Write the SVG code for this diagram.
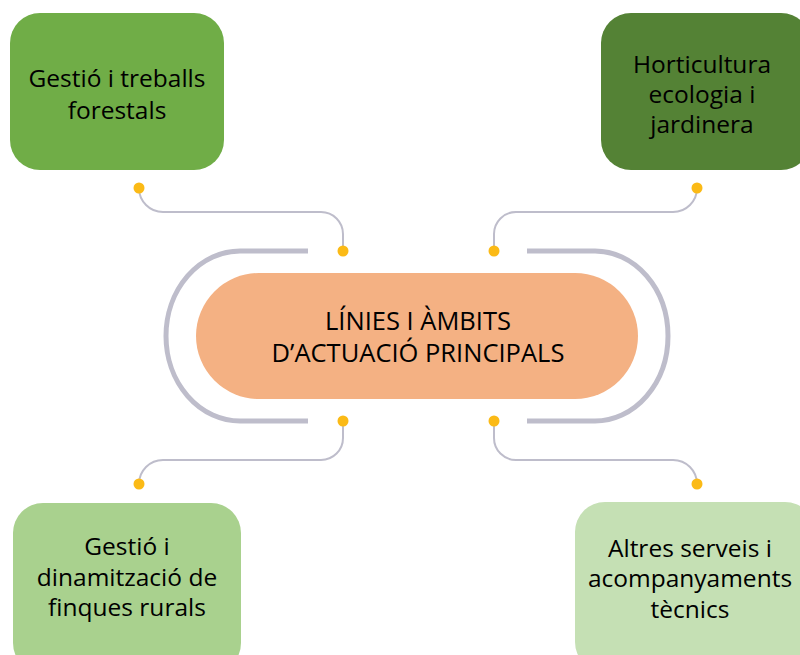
<svg xmlns="http://www.w3.org/2000/svg" width="800" height="655" viewBox="0 0 800 655">
<style>
.t{font-family:"Open Sans","Noto Sans","Liberation Sans",sans-serif;font-size:24.5px;fill:#000;text-anchor:middle}
.c{font-size:25.5px}
.conn{fill:none;stroke:#BEBDCB;stroke-width:2}
.br{fill:none;stroke:#BEBDCB;stroke-width:5}
.dot{fill:#FBBA16}
</style>
<rect width="800" height="655" fill="#fff"/>
<g id="connectors">
<path class="br" d="M308 251 H240 A74 85 0 0 0 240 421 H308"/>
<path class="br" d="M527 251 H595 A73 85 0 0 1 595 421 H527"/>
<path class="conn" d="M139 188 A24 24 0 0 0 163 212 H321 A22 22 0 0 1 343 234 V251"/>
<path class="conn" d="M697 188 A24 24 0 0 1 673 212 H516 A22 22 0 0 0 494 234 V251"/>
<path class="conn" d="M343 421 V438 A22 22 0 0 1 321 460 H163 A24 24 0 0 0 139 484"/>
<path class="conn" d="M494 421 V438 A22 22 0 0 0 516 460 H673 A24 24 0 0 1 697 484"/>
<circle class="dot" cx="139" cy="188" r="5.5"/>
<circle class="dot" cx="343" cy="251" r="5.5"/>
<circle class="dot" cx="697" cy="188" r="5.5"/>
<circle class="dot" cx="494" cy="251" r="5.5"/>
<circle class="dot" cx="343" cy="421" r="5.5"/>
<circle class="dot" cx="139" cy="484" r="5.5"/>
<circle class="dot" cx="494" cy="421" r="5.5"/>
<circle class="dot" cx="697" cy="484" r="5.5"/>
</g>
<g id="center">
<rect x="196" y="273" width="442" height="126" rx="63" fill="#F4B183"/>
<text class="t c" x="418" y="330">LÍNIES I ÀMBITS</text>
<text class="t c" x="418" y="362">D’ACTUACIÓ PRINCIPALS</text>
</g>
<g id="node-tl">
<rect x="10" y="13" width="214" height="157" rx="30" fill="#70AD47"/>
<text class="t" x="117" y="87">Gestió i treballs</text>
<text class="t" x="117" y="119">forestals</text>
</g>
<g id="node-tr">
<rect x="601" y="13" width="210" height="157" rx="30" fill="#548235"/>
<text class="t" x="702" y="73">Horticultura</text>
<text class="t" x="702" y="103">ecologia i</text>
<text class="t" x="702" y="133">jardinera</text>
</g>
<g id="node-bl">
<rect x="13" y="503" width="228" height="170" rx="30" fill="#A9D18E"/>
<text class="t" x="127" y="555">Gestió i</text>
<text class="t" x="127" y="586">dinamització de</text>
<text class="t" x="127" y="616">finques rurals</text>
</g>
<g id="node-br">
<rect x="575" y="502" width="240" height="170" rx="30" fill="#C5E0B4"/>
<text class="t" x="690" y="557">Altres serveis i</text>
<text class="t" x="690" y="587">acompanyaments</text>
<text class="t" x="690" y="618">tècnics</text>
</g>
</svg>
